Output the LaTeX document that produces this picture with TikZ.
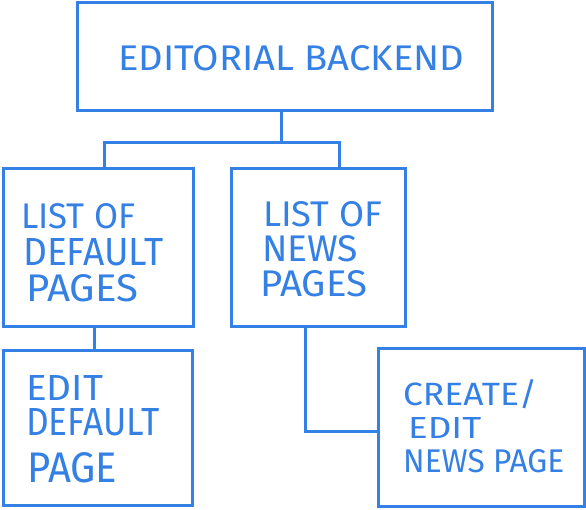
\documentclass[tikz,border=0pt]{standalone}
\usepackage{fontspec}
\usepackage{graphicx}
\newfontfamily\hand{Fira Sans}
\definecolor{pen}{RGB}{52,128,228}
\newcommand{\hw}[3]{\raisebox{0pt}[\height][0pt]{\resizebox{#1pt}{#2pt}{\hand #3}}}
\newcommand{\hwline}[4]{\hbox{\kern#1pt\hw{#2}{#3}{#4}}}
\newcommand{\hwgap}[1]{\kern#1pt}
\begin{document}
\begin{tikzpicture}[x=1pt,y=-1pt,
  box/.style={draw=pen, line width=3pt, rectangle, inner sep=0pt},
  wire/.style={draw=pen, line width=3pt},
  lbl/.style={anchor=base west, inner sep=0pt, text=pen}]
\useasboundingbox (0,0) rectangle (586,510);
% boxes
\node[box, minimum width=415pt, minimum height=108pt] (top) at (284.5,57) {};
\node[box, minimum width=190pt, minimum height=158pt] (lod) at (98,248) {};
\node[box, minimum width=174pt, minimum height=158pt] (lon) at (318,248) {};
\node[box, minimum width=189pt, minimum height=154pt] (edp) at (97.5,428) {};
\node[box, minimum width=206pt, minimum height=157pt] (cen) at (481,427.5) {};
% junction points
\coordinate (j) at (281,143);
\coordinate (jl) at (104,143);
\coordinate (jr) at (339,143);
% connectors
\draw[wire] (top.south -| j) -- (j);
\draw[wire] (lod.north -| jl) |- (jr) -- (lon.north -| jr);
\draw[wire] ([xshift=-4pt]lod.south) -- ([xshift=-4pt]lod.south |- edp.north);
\draw[wire] ([xshift=-13pt]lon.south) |- ([yshift=-3.5pt]cen.west);
% labels
\node[lbl] (t1) at (118,71) {\hw{346}{25}{EDITORIAL BACKEND}};
\node[lbl] (a) at (21,229) {\vtop{\offinterlineskip
  \hwline{0}{114}{25}{LIST OF}\hwgap{9}
  \hwline{2}{140}{27}{DEFAULT}\hwgap{9}
  \hwline{5}{112}{27}{PAGES}}};
\node[lbl] (b) at (260,227) {\vtop{\offinterlineskip
  \hwline{3}{119}{25}{LIST OF}\hwgap{9}
  \hwline{2}{96}{26}{NEWS}\hwgap{9}
  \hwline{0}{107}{26}{PAGES}}};
\node[lbl] (c) at (26,400) {\vtop{\offinterlineskip
  \hwline{0}{77}{25}{EDIT}\hwgap{8}
  \hwline{0}{133}{27}{DEFAULT}\hwgap{17}
  \hwline{1}{90}{30}{PAGE}}};
\node[lbl] (d) at (403,405) {\vtop{\offinterlineskip
  \hwline{0}{134}{26}{CREATE/}\hwgap{12}
  \hwline{5}{73}{21}{EDIT}\hwgap{11}
  \hwline{0}{161}{23}{NEWS PAGE}}};
\end{tikzpicture}
\end{document}
